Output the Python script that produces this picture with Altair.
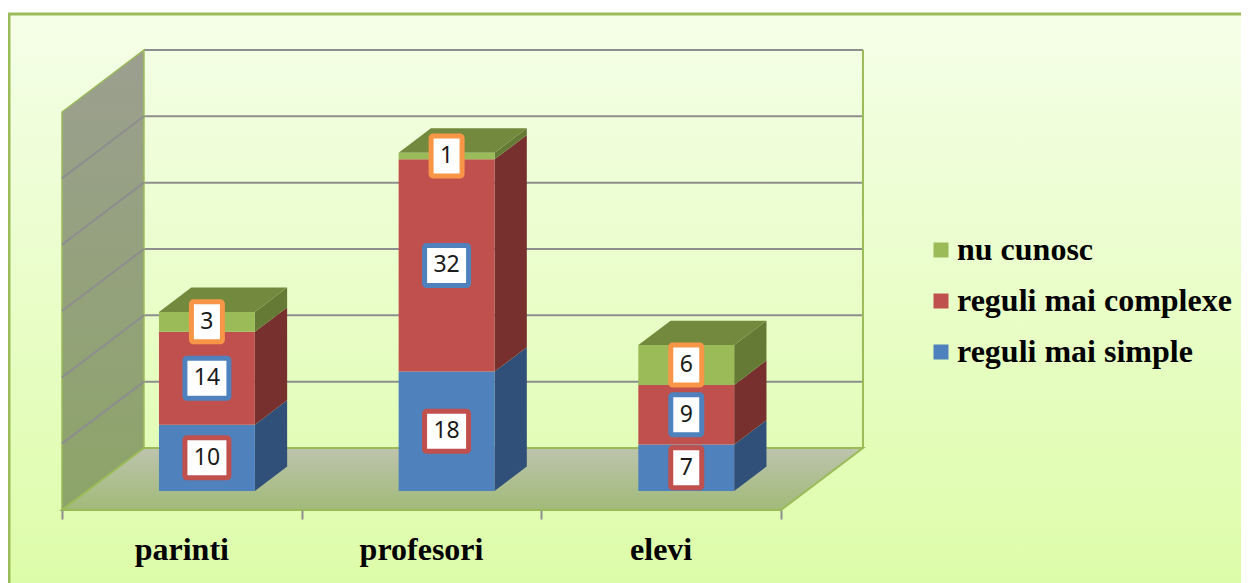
import altair as alt
import pandas as pd

categories = ["parinti", "profesori", "elevi"]
series = ["reguli mai simple", "reguli mai complexe", "nu cunosc"]
simple = [10, 18, 7]
complexe = [14, 32, 9]
nu_cunosc = [3, 1, 6]
series_values = [simple, complexe, nu_cunosc]

FRONT = ["#4F81BD", "#C0504D", "#9BBB59"]
SIDE = ["#30507A", "#77302E", "#647A35"]
BOX = ["#C0504D", "#4F81BD", "#F79646"]
TOP = "#738A3E"
EDGE = "#9BBB59"
GRID = "#8E8E8E"

DX, DY = 0.342, 9.35     # wall depth in axis units
Z0, Z1 = 0.306, 0.70     # bar front / back depth
HALF = 0.2
YMAX = 60

xs = alt.Scale(domain=[0, 3], range=[54, 773], nice=False, zero=False)
ys = alt.Scale(domain=[0, YMAX], range=[502, 104], nice=False, zero=False)

axis = alt.Axis(
    values=[0, 1, 2, 3], labels=False, title=None, domain=False, grid=False,
    tickColor=GRID, tickWidth=2, tickSize=9, offset=-73, zindex=1,
)


def X(f="x"):
    return alt.X(f"{f}:Q", scale=xs, axis=axis)


def Y(f="y"):
    return alt.Y(f"{f}:Q", scale=ys, axis=None)


def Y2(f="y2"):
    return alt.Y2(f"{f}:Q")


def X2(f="x2"):
    return alt.X2(f"{f}:Q")


def grad(a, b):
    return alt.LinearGradient(
        gradient="linear",
        stops=[alt.GradientStop(color=a, offset=0), alt.GradientStop(color=b, offset=1)],
        x1=0, x2=0, y1=0, y2=1,
    )


layers = []

# chart background
layers.append(
    alt.Chart(pd.DataFrame({"a": [0]}))
    .mark_rect(color=grad("#F5FFE8", "#DCFCA6"), stroke="#9BBB59", strokeWidth=3)
    .encode(x=alt.value(1), x2=alt.value(1300), y=alt.value(6), y2=alt.value(600))
)

# back wall gridlines
gridvals = [10, 20, 30, 40, 50, 60]
back = pd.DataFrame(
    [{"g": v, "x": DX, "y": v + DY} for v in gridvals]
    + [{"g": v, "x": 3 + DX, "y": v + DY} for v in gridvals]
)
layers.append(
    alt.Chart(back).mark_line(color=GRID, strokeWidth=2).encode(x=X(), y=Y(), detail="g:N")
)

# back wall right edge
edges = pd.DataFrame(
    [{"g": "r", "x": 3 + DX, "y": DY}, {"g": "r", "x": 3 + DX, "y": YMAX + DY}]
)
layers.append(
    alt.Chart(edges).mark_line(color=EDGE, strokeWidth=2).encode(x=X(), y=Y(), detail="g:N")
)

# left wall
wall = pd.DataFrame(
    [{"x": 0, "y": 0, "y2": YMAX}, {"x": DX, "y": DY, "y2": YMAX + DY}]
)
layers.append(
    alt.Chart(wall)
    .mark_area(orient="vertical", color=grad("#9C9F90", "#8CA468"), stroke=EDGE, strokeWidth=1.5)
    .encode(x=X(), y=Y(), y2=Y2())
)
wall_grid = pd.DataFrame(
    [{"g": v, "x": 0, "y": v} for v in gridvals[:-1]]
    + [{"g": v, "x": DX, "y": v + DY} for v in gridvals[:-1]]
)
layers.append(
    alt.Chart(wall_grid).mark_line(color=GRID, strokeWidth=2).encode(x=X(), y=Y(), detail="g:N")
)

# floor
floor = pd.DataFrame(
    [{"y": 0, "x": 0, "x2": 3}, {"y": DY, "x": DX, "x2": 3 + DX}]
)
layers.append(
    alt.Chart(floor)
    .mark_area(orient="horizontal", color=grad("#BDC4AD", "#A1BA78"), stroke=EDGE, strokeWidth=2)
    .encode(x=X(), x2=X2(), y=Y())
)

# bars
bottoms = [0, 0, 0]
fronts, boxes = [], []
for s, name in enumerate(series):
    side_rows = []
    for i, cat in enumerate(categories):
        v0 = bottoms[i]
        v1 = v0 + series_values[s][i]
        x2 = i + 0.5 + HALF
        x1 = i + 0.5 - HALF
        for z in (Z0, Z1):
            side_rows.append({"c": cat, "x": x2 + DX * z, "y": v0 + DY * z, "y2": v1 + DY * z})
        fronts.append({
            "c": cat, "series": name,
            "x": x1 + DX * Z0, "x2": x2 + DX * Z0,
            "y": v0 + DY * Z0, "y2": v1 + DY * Z0,
        })
        boxes.append({
            "s": s, "v": series_values[s][i], "x": i + 0.5 + DX * Z0,
            "y": (v0 + v1) / 2 + DY * Z0,
        })
        bottoms[i] = v1
    layers.append(
        alt.Chart(pd.DataFrame(side_rows))
        .mark_area(orient="vertical", color=SIDE[s])
        .encode(x=X(), y=Y(), y2=Y2(), detail="c:N")
    )

top_rows = []
for i, cat in enumerate(categories):
    for z in (Z0, Z1):
        top_rows.append({
            "c": cat, "y": bottoms[i] + DY * z,
            "x": i + 0.5 - HALF + DX * z, "x2": i + 0.5 + HALF + DX * z,
        })
layers.append(
    alt.Chart(pd.DataFrame(top_rows))
    .mark_area(orient="horizontal", color=TOP)
    .encode(x=X(), x2=X2(), y=Y(), detail="c:N")
)

layers.append(
    alt.Chart(pd.DataFrame(fronts))
    .mark_rect()
    .encode(
        x=X(), x2=X2(), y=Y(), y2=Y2(),
        color=alt.Color(
            "series:N",
            scale=alt.Scale(domain=series, range=FRONT),
            sort=series[::-1],
            legend=alt.Legend(
                orient="none", legendX=917, legendY=226, title=None,
                values=series[::-1],
                symbolType="square", symbolSize=225, symbolStrokeWidth=0, symbolOpacity=1,
                labelFont="Liberation Serif", labelFontWeight="bold", labelFontSize=32,
                labelColor="#000000", labelOffset=0, rowPadding=19, labelLimit=400,
            ),
        ),
    )
)

# data-label boxes
bdf = pd.DataFrame(boxes)
for s in range(3):
    for digits, w in ((1, 31), (2, 44)):
        sub = bdf[(bdf.s == s) & (bdf.v.astype(str).str.len() == digits)]
        if len(sub):
            layers.append(
                alt.Chart(sub)
                .mark_rect(width=w, height=40, fill="white", stroke=BOX[s], strokeWidth=5, cornerRadius=2)
                .encode(x=X(), y=Y())
            )
layers.append(
    alt.Chart(bdf)
    .mark_text(font="Noto Sans", fontSize=23, color="#1A1A1A", baseline="middle", align="center")
    .encode(x=X(), y=Y(), text="v:Q")
)

# category labels
cat_df = pd.DataFrame({"c": categories, "x": [0.5, 1.5, 2.5], "y": [-6.1] * 3})
layers.append(
    alt.Chart(cat_df)
    .mark_text(font="Liberation Serif", fontWeight="bold", fontSize=32, color="#000000",
               baseline="middle", align="center")
    .encode(x=X(), y=Y(), text="c:N")
)

chart = (
    alt.layer(*layers)
    .properties(
        width=1233, height=575,
        padding=0,
        autosize=alt.AutoSizeParams(type="none"),
        background="white",
    )
    .configure_view(stroke=None)
)

chart.save("out.html", embed_options={"renderer": "svg", "actions": False})
